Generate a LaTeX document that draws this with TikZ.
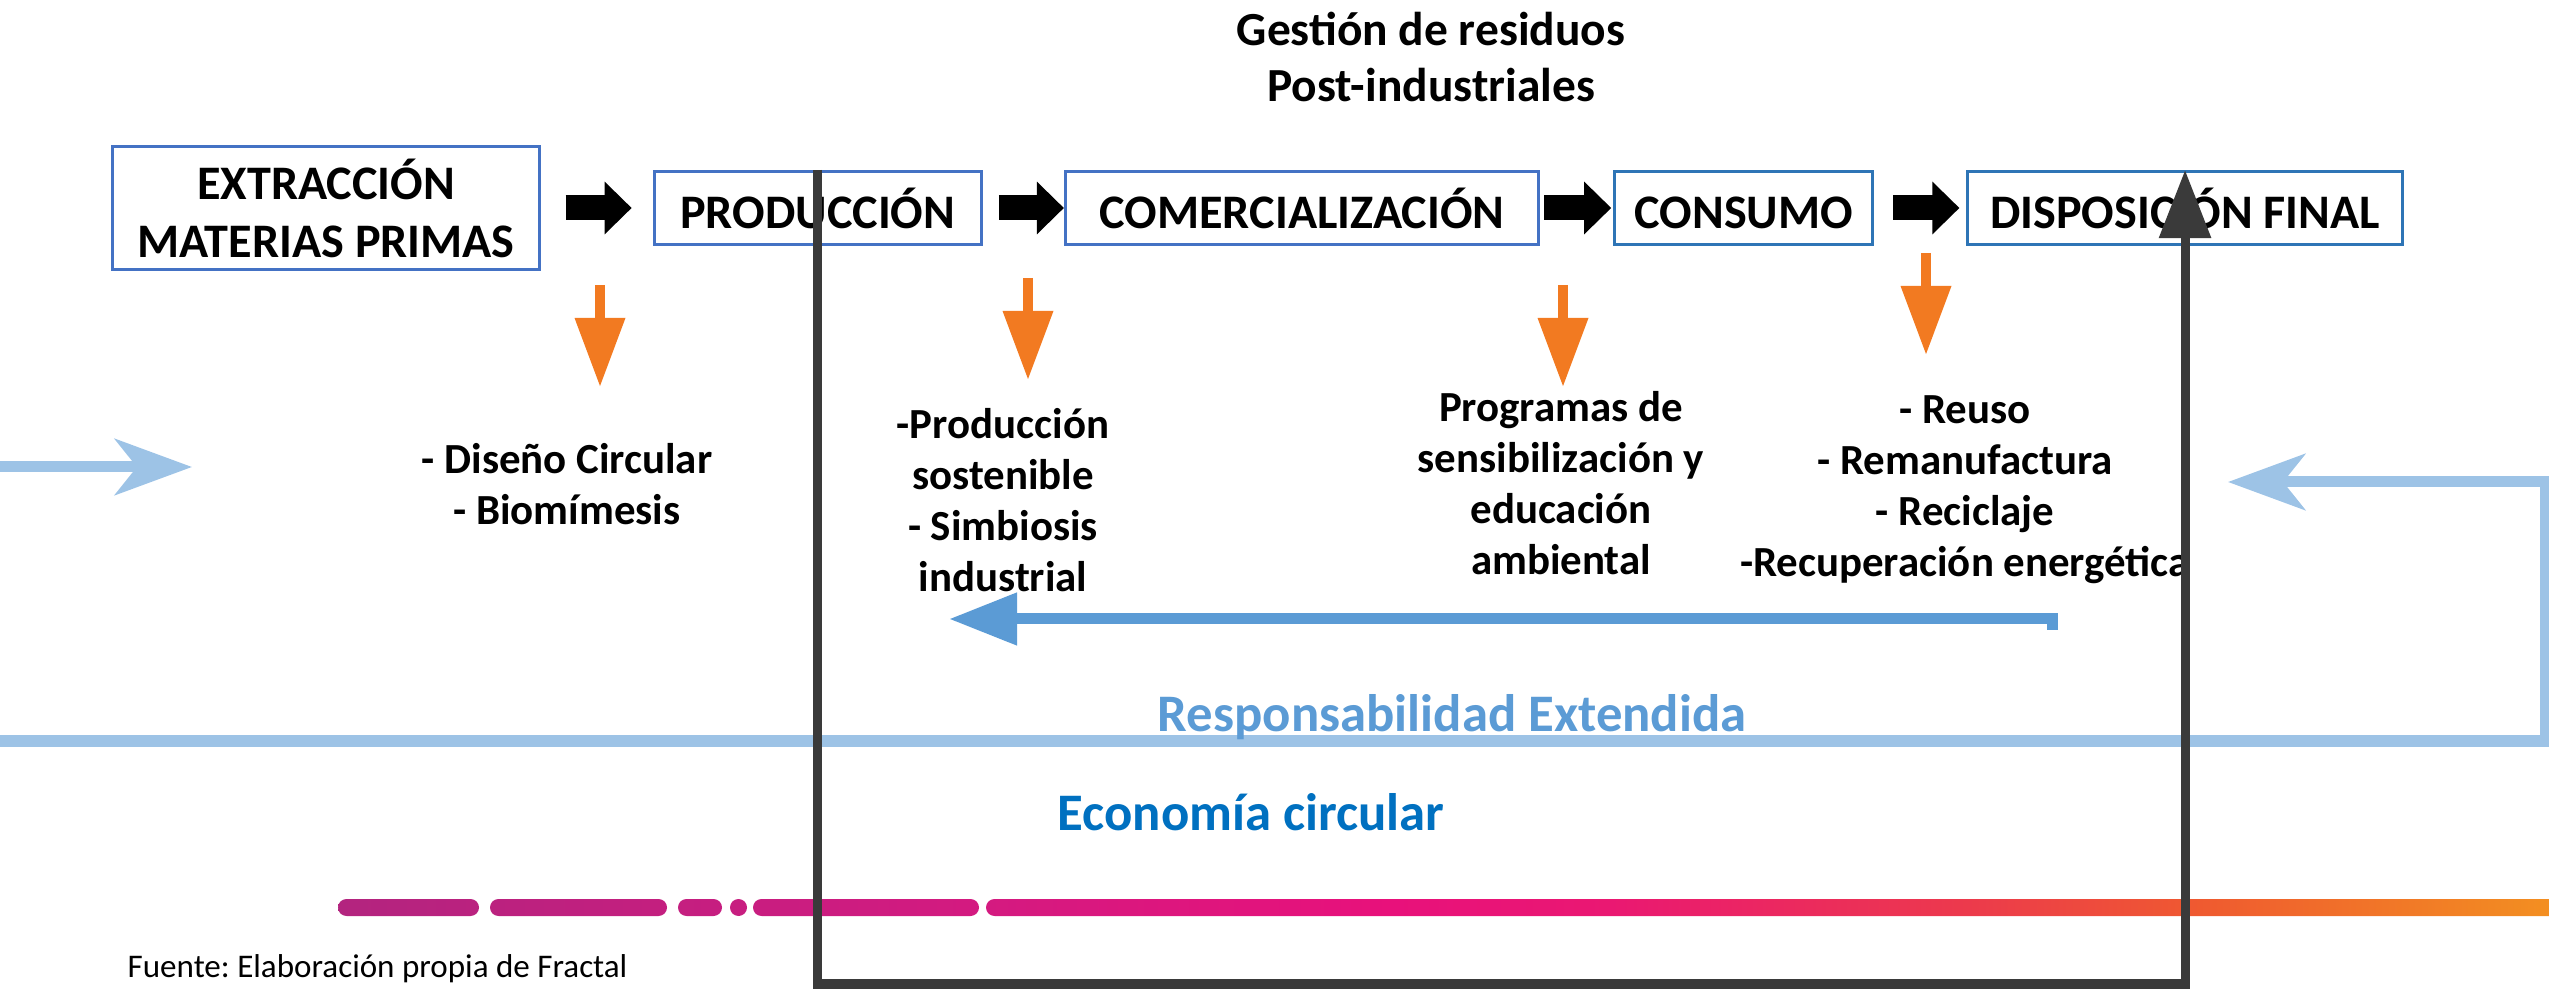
\documentclass[tikz,border=0pt]{standalone}
\usepackage{fontspec}
\setmainfont{Carlito}
\frenchspacing
\usetikzlibrary{arrows.meta, positioning}
\definecolor{mblue}{HTML}{4472C4}
\definecolor{mblue2}{HTML}{2E75B6}
\definecolor{morange}{HTML}{F27A21}
\definecolor{mgray}{HTML}{3A3A3A}
\definecolor{lblue}{HTML}{9DC3E6}
\definecolor{rblue}{HTML}{5B9BD5}
\definecolor{eblue}{HTML}{0070C0}
\definecolor{bar0}{HTML}{B3247F}
\definecolor{bar1}{HTML}{D41A80}
\definecolor{bar2}{HTML}{E8117B}
\definecolor{bar3}{HTML}{EA1872}
\definecolor{bar4}{HTML}{EC3A4C}
\definecolor{bar5}{HTML}{EF5A30}
\definecolor{bar6}{HTML}{F39220}
\pgfdeclarehorizontalshading{ecobar}{100bp}{color(0bp)=(bar0); color(25bp)=(bar0); color(39.5bp)=(bar1); color(48.6bp)=(bar2); color(53.5bp)=(bar3); color(61.5bp)=(bar4); color(66.7bp)=(bar5); color(75bp)=(bar6); color(100bp)=(bar6)}
\tikzstyle{stageb} = [rectangle, draw=mblue, line width=0.85pt, fill=white, minimum height=0.73cm, text centered, font=\fontsize{13.7}{16.5}\selectfont\bfseries]
\tikzstyle{notetxt} = [align=center, font=\fontsize{12.2}{14.5}\selectfont\bfseries]
\tikzstyle{flowarrow} = [line width=0.25cm, -{Triangle[width=0.51cm, length=0.27cm]}]
\tikzstyle{hintarrow} = [morange, line width=0.1cm, -{Triangle[width=0.48cm, length=0.69cm]}]
\tikzstyle{recarrow} = [lblue, line width=0.11cm, -{Stealth[width=0.56cm, length=0.77cm, inset=0.22cm]}]
\tikzstyle{retarrow} = [rblue, line width=0.11cm, -{Triangle[width=0.5cm, length=0.68cm]}]
\tikzstyle{framearrow} = [mgray, line width=0.09cm, -{Triangle[width=0.5cm, length=0.68cm]}]

\begin{document}
\begin{tikzpicture}[x=0.01cm, y=-0.01cm]
  \useasboundingbox (0,0) rectangle (2549,989);
  \node (title) [align=center, font=\fontsize{13.5}{16}\selectfont\bfseries] at (1431,57) {Gestión de residuos\\Post-industriales};
  \node (ext) [stageb, align=center, minimum width=4.26cm, minimum height=1.11cm] at (326,208) {EXTRACCIÓN\\MATERIAS PRIMAS};
  \node (prod) [stageb, minimum width=3.27cm, right=1.12cm of ext] {PRODUCCIÓN};
  \node (comer) [stageb, minimum width=4.73cm, right=0.81cm of prod] {COMERCIALIZACIÓN};
  \node (cons) [stageb, draw=mblue2, minimum width=2.58cm, right=0.73cm of comer] {CONSUMO\vphantom{Ó}};
  \node (disp) [stageb, draw=mblue2, minimum width=4.34cm, right=0.92cm of cons] {DISPOSICIÓN FINAL};
  \draw [flowarrow, shorten <=0.25cm, shorten >=0.21cm] (ext) -- (prod);
  \draw [flowarrow, shorten <=0.16cm] (prod) -- (comer);
  \draw [flowarrow, shorten <=0.04cm, shorten >=0.02cm] (comer) -- (cons);
  \draw [flowarrow, shorten <=0.19cm, shorten >=0.07cm] (cons) -- (disp);

  \node (dis) [notetxt] at (567,484) {- Diseño Circular\\- Biomímesis};
  \node (sost) [notetxt] at (1003,500) {-Producción\\sostenible\\- Simbiosis\\industrial};
  \node (prog) [notetxt] at (1561,483) {Programas de\\sensibilización y\\educación\\ambiental};
  \node (reuso) [notetxt] at (1965,490) {- Reuso\\- Remanufactura\\- Reciclaje\\-Recuperación energética};

  \coordinate (h1a) at (600,285);
  \coordinate (h1b) at (600,387);
  \coordinate (h2a) at (1028,278);
  \coordinate (h2b) at (1028,380);
  \coordinate (h3a) at (1563,285);
  \coordinate (h3b) at (1563,387);
  \coordinate (h4a) at (1926,253);
  \coordinate (h4b) at (1926,355);
  \draw [hintarrow] (h1a) -- (h1b);
  \draw [hintarrow] (h2a) -- (h2b);
  \draw [hintarrow] (h3a) -- (h3b);
  \draw [hintarrow] (h4a) -- (h4b);

  \coordinate (ra0) at (2052,630);
  \coordinate (ra1) at (949,619);
  \draw [retarrow] (ra0) |- (ra1);

  \coordinate (la0) at (0,467);
  \coordinate (la1) at (192,467);
  \draw [recarrow] (la0) -- (la1);
  \coordinate (rl0) at (0,741);
  \coordinate (rlc) at (2545,482);
  \coordinate (rl1) at (2228,482);
  \draw [recarrow] (rl0) -| (rlc) -- (rl1);

  \node (rep) [font=\fontsize{15}{18}\selectfont\bfseries, text=rblue] at (1452,717) {Responsabilidad Extendida};
  \node (eco) [font=\fontsize{15}{18}\selectfont\bfseries, text=eblue] at (1251,812) {Economía circular};
  \node (src) [anchor=base west, inner sep=0pt, font=\fontsize{9.4}{11}\selectfont] at (127,977) {Fuente: Elaboración propia de Fractal};

  \shade [shading=ecobar, rounded corners=0.085cm] (338,899) rectangle (479,916) (490,899) rectangle (667,916) (678,899) rectangle (722,916) (730,899) rectangle (747,916) (753,899) rectangle (979,916) (986,899) rectangle (2570,916);

  \coordinate (fb) at (0,984);
  \draw [framearrow] (prod.north) -- (prod.north |- fb) -- (disp.north |- fb) -- (disp.north);
\end{tikzpicture}
\end{document}
